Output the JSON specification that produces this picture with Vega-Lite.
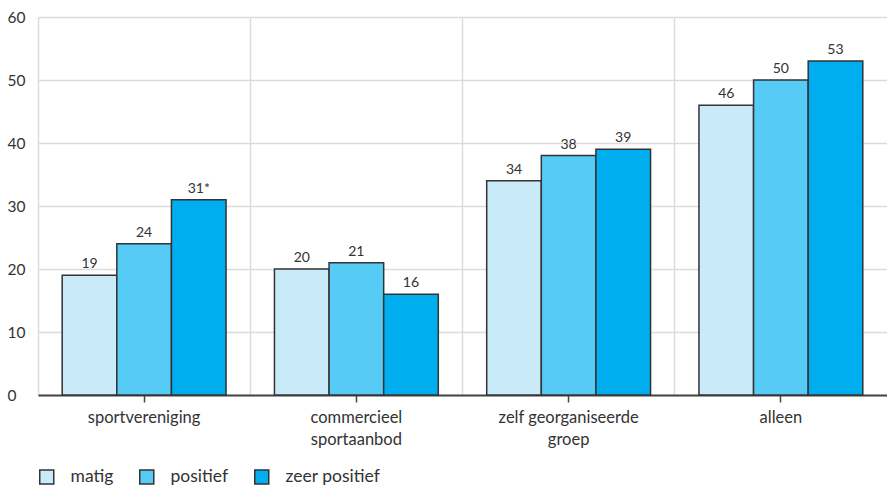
{
  "$schema": "https://vega.github.io/schema/vega-lite/v6.json",
  "autosize": "none",
  "width": 849,
  "height": 378,
  "padding": {"left": 38, "top": 17, "right": 0, "bottom": 91},
  "background": "white",
  "config": {
    "font": "Lato",
    "view": {"stroke": null},
    "axis": {"labelFont": "Lato", "labelColor": "#333333"}
  },
  "data": {
    "values": [
      {"groep": "sportvereniging", "serie": "matig", "waarde": 19, "label": "19"},
      {"groep": "sportvereniging", "serie": "positief", "waarde": 24, "label": "24"},
      {"groep": "sportvereniging", "serie": "zeer positief", "waarde": 31, "label": "31*"},
      {"groep": "commercieel sportaanbod", "serie": "matig", "waarde": 20, "label": "20"},
      {"groep": "commercieel sportaanbod", "serie": "positief", "waarde": 21, "label": "21"},
      {"groep": "commercieel sportaanbod", "serie": "zeer positief", "waarde": 16, "label": "16"},
      {"groep": "zelf georganiseerde groep", "serie": "matig", "waarde": 34, "label": "34"},
      {"groep": "zelf georganiseerde groep", "serie": "positief", "waarde": 38, "label": "38"},
      {"groep": "zelf georganiseerde groep", "serie": "zeer positief", "waarde": 39, "label": "39"},
      {"groep": "alleen", "serie": "matig", "waarde": 46, "label": "46"},
      {"groep": "alleen", "serie": "positief", "waarde": 50, "label": "50"},
      {"groep": "alleen", "serie": "zeer positief", "waarde": 53, "label": "53"}
    ]
  },
  "encoding": {
    "x": {
      "field": "groep", "type": "nominal", "sort": null,
      "scale": {"paddingInner": 0, "paddingOuter": 0}
    },
    "xOffset": {
      "field": "serie", "type": "nominal", "sort": ["matig", "positief", "zeer positief"],
      "scale": {"paddingInner": 0, "paddingOuter": 0.443}
    },
    "y": {
      "field": "waarde", "type": "quantitative",
      "scale": {"domain": [0, 60], "nice": false}
    }
  },
  "layer": [
    {
      "mark": {"type": "bar", "stroke": "#333333", "strokeWidth": 1.5},
      "encoding": {
        "x": {
          "field": "groep", "type": "nominal", "sort": null,
          "axis": {
            "orient": "top", "title": null, "labels": false, "ticks": false, "domain": false,
            "grid": true, "bandPosition": 0, "gridColor": "#dcdcdc", "gridWidth": 1.5
          }
        },
        "y": {
          "field": "waarde", "type": "quantitative",
          "axis": {
            "title": null, "values": [0, 10, 20, 30, 40, 50, 60], "grid": true,
            "gridColor": "#dcdcdc", "gridWidth": 1.5, "domain": false, "ticks": false, "tickSize": 0,
            "labelAlign": "left", "labelPadding": 31, "labelFontSize": 15.5, "labelColor": "#333333"
          }
        },
        "color": {
          "field": "serie", "type": "nominal",
          "scale": {"domain": ["matig", "positief", "zeer positief"], "range": ["#c8eaf9", "#56cbf5", "#00aeef"]},
          "legend": {
            "title": null, "orient": "none", "direction": "horizontal", "legendX": 0, "legendY": 451,
            "symbolType": "square", "symbolSize": 196, "symbolStrokeColor": "#333333", "symbolStrokeWidth": 1.5,
            "labelFontSize": 17.5, "labelColor": "#333333", "labelOffset": 15, "columnPadding": 22
          }
        }
      }
    },
    {
      "mark": {"type": "text", "baseline": "alphabetic", "dy": -7, "fontSize": 14, "color": "#333333"},
      "encoding": {
        "x": {
          "field": "groep", "type": "nominal", "sort": null,
          "axis": {
            "orient": "bottom", "title": null, "grid": false, "domain": true, "domainColor": "#444444", "domainWidth": 2,
            "ticks": true, "tickColor": "#444444", "tickSize": 7, "tickWidth": 1.5,
            "labelAngle": 0, "labelFontSize": 16.5, "labelColor": "#333333", "labelPadding": 7, "labelLineHeight": 22,
            "labelExpr": "datum.label == 'commercieel sportaanbod' ? ['commercieel', 'sportaanbod'] : datum.label == 'zelf georganiseerde groep' ? ['zelf georganiseerde', 'groep'] : datum.label"
          }
        },
        "text": {"field": "label"}
      }
    }
  ],
  "resolve": {"axis": {"x": "independent"}}
}
